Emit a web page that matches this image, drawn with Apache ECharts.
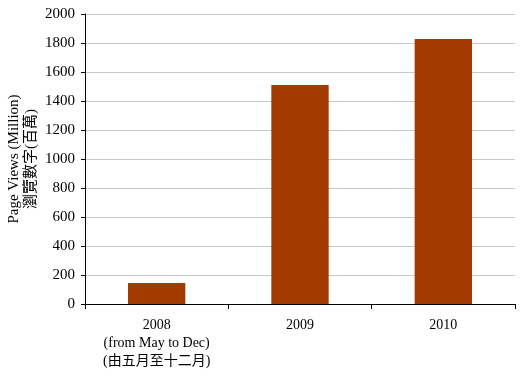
<!DOCTYPE html>
<html>
<head>
<meta charset="utf-8">
<script src="https://cdn.jsdelivr.net/npm/echarts@6/dist/echarts.min.js"></script>
<style>
  html, body { margin: 0; padding: 0; background: #fff; }
  #chart { width: 520px; height: 376px; }
</style>
</head>
<body>
<div id="chart"></div>
<script>
// chart data
const categories = ['2008\n(from May to Dec)\n(由五月至十二月)', '2009', '2010'];
const pageViews = [145, 1510, 1828];
const yTicks = {min: 0, max: 2000, interval: 200};

const serif = '"Liberation Serif", "DejaVu Serif", "Noto Sans CJK TC", serif';

const chart = echarts.init(document.getElementById('chart'));
chart.setOption({
    animation: false,
    grid: {left: 85, top: 14, right: 5, bottom: 72, containLabel: false, outerBoundsMode: 'none'},
    xAxis: {
        type: 'category',
        data: categories,
        axisLine: {lineStyle: {color: '#000', width: 1}},
        axisTick: {show: true, length: 5, lineStyle: {color: '#000'}},
        axisLabel: {
            color: '#000',
            fontFamily: serif,
            fontSize: 14,
            lineHeight: 18,
            margin: 12
        }
    },
    yAxis: {
        type: 'value',
        min: yTicks.min,
        max: yTicks.max,
        interval: yTicks.interval,
        name: 'Page Views (Million)\n瀏覽數字(百萬)',
        nameLocation: 'middle',
        nameGap: 45,
        nameMoveOverlap: false,
        nameRotate: 90,
        nameTextStyle: {color: '#000', fontFamily: serif, fontSize: 15, lineHeight: 17},
        axisLine: {show: true, lineStyle: {color: '#000', width: 1}},
        axisTick: {show: true, length: 4, lineStyle: {color: '#000'}},
        axisLabel: {
            color: '#000',
            fontFamily: serif,
            fontSize: 15,
            margin: 10,
            formatter: v => String(v)
        },
        splitLine: {lineStyle: {color: '#c8c8c8', width: 1}}
    },
    series: [{
        type: 'bar',
        data: pageViews,
        barWidth: '40%',
        itemStyle: {color: '#a33a00'}
    }]
});
</script>
</body>
</html>
